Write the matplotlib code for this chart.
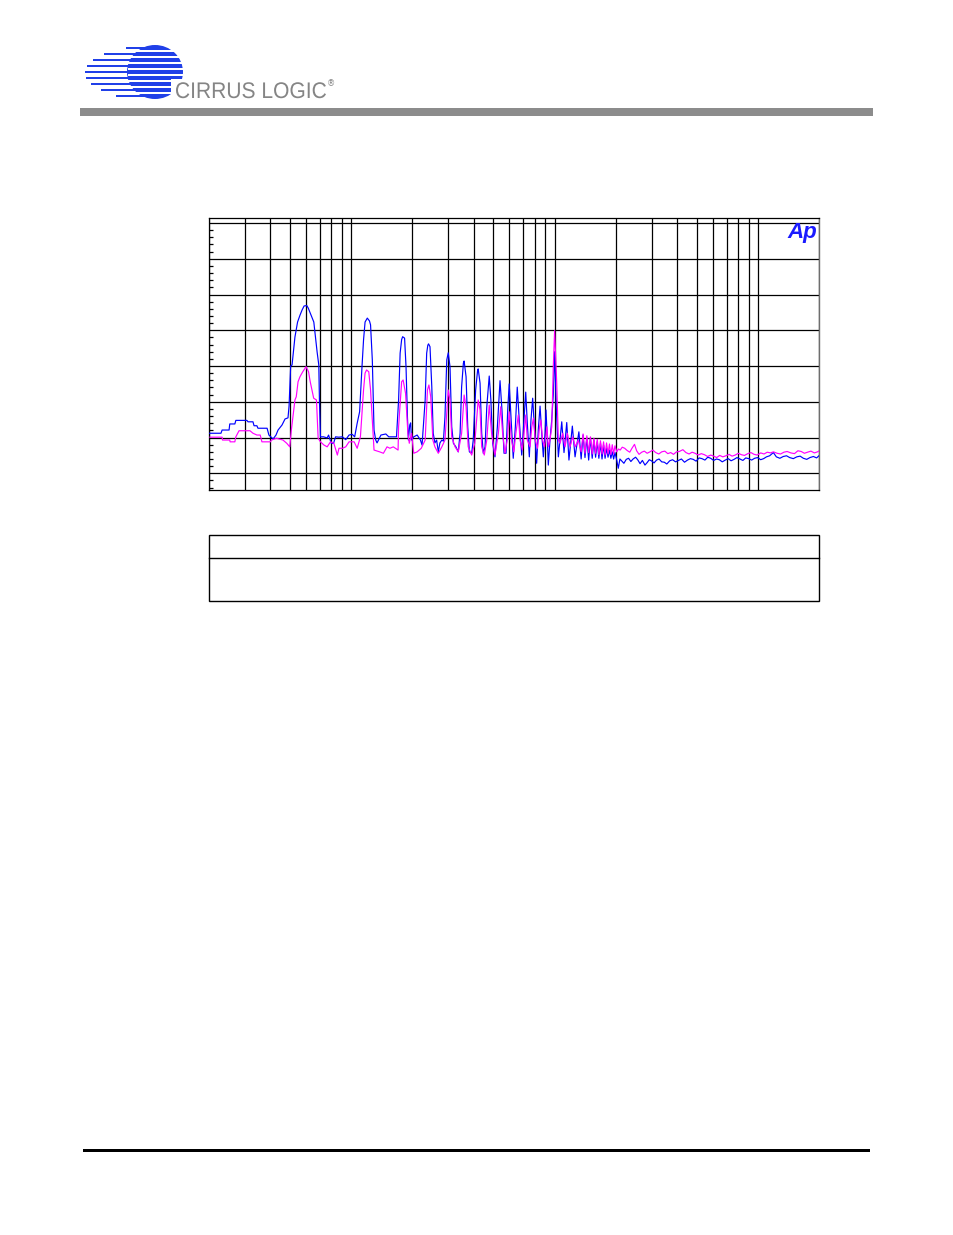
import matplotlib
matplotlib.use("Agg")
import matplotlib.pyplot as plt
from matplotlib.patches import Rectangle, Ellipse, PathPatch
from matplotlib.textpath import TextPath
from matplotlib.font_manager import FontProperties
from matplotlib.transforms import Affine2D
from matplotlib.ticker import FixedLocator, NullFormatter

# ---------------------------------------------------------------- data
# FFT traces, (frequency in Hz, level in dB)
blue_low = [(20.0, -58.8), (22.9, -58.8), (23.2, -57.9), (25.1, -57.9), (25.3, -56.2),
            (26.8, -56.2), (27.1, -55.2), (30.7, -55.2), (31.1, -55.6), (32.9, -55.6),
            (33.3, -56.7), (34.4, -56.7), (34.8, -57.4), (38.6, -57.4), (39.4, -59.3),
            (41.3, -60.4), (42.7, -59.3), (43.7, -57.9), (45.7, -56.5), (47.3, -54.8),
            (48.9, -54.5), (49.5, -51.2), (50.4, -40.0), (51.2, -39.7), (52.9, -31.9),
            (54.5, -27.7), (56.0, -25.8), (57.4, -24.3), (58.7, -23.2), (60.5, -23.1),
            (61.5, -23.8), (62.9, -25.2), (64.4, -26.6), (65.5, -27.7), (66.7, -31.9),
            (68.0, -36.1), (69.3, -39.7), (69.8, -49.5), (70.6, -59.8), (73.1, -59.8),
            (76.2, -60.1), (77.4, -59.3), (79.8, -61.6), (81.9, -61.6), (83.8, -59.8),
            (86.8, -59.9), (90.5, -59.8), (94.0, -60.6), (97.6, -59.3), (101.2, -59.1),
            (104, -59.8), (107, -56.0), (110, -52.8), (113, -40.2), (115, -32.7),
            (117, -27.7), (120, -26.6), (123, -27.4), (124.5, -28.5), (127, -38.3),
            (129.5, -57.9), (132, -60.7), (134, -61.5), (140, -59.3), (148, -59.0),
            (153, -59.8), (161, -59.8), (167, -59.8)]

blue_harm = [(171, -49.5), (174, -36.4), (177, -32.6), (179, -31.8), (183, -32.2),
             (186, -40.2), (189, -54.2), (191, -60.7), (194, -56.5), (196, -55.9),
             (198, -60.7), (203, -59.8), (211, -59.3), (219, -60.7), (223, -62.1),
             (231, -49.5), (235, -36.4), (238, -34.2), (240, -33.8), (244, -34.6),
             (249, -45.8), (253, -58.8), (258, -61.5), (263, -60.7), (268, -64.0),
             (273, -61.5), (279, -60.7), (284, -61.0), (289, -54.2), (295, -38.3),
             (300, -36.3), (306, -40.2), (312, -57.0), (318, -61.6), (327, -62.6),
             (336, -64.0), (343, -58.8), (349, -45.8), (356, -39.2), (359, -38.6),
             (367, -43.0), (374, -57.0), (381, -64.0), (391, -64.4), (398, -60.7),
             (409, -46.7), (418, -41.3), (421, -40.8), (430, -44.8), (438, -58.8),
             (446, -64.4), (455, -62.6), (464, -51.4), (477, -42.8), (486, -49.5),
             (496, -61.6), (509, -65.4), (523, -57.0), (539, -44.1), (551, -52.3),
             (564, -64.4), (577, -64.4), (588, -52.3), (598, -45.0), (610, -54.2),
             (626, -65.8), (641, -57.0), (655, -45.9), (670, -55.1), (689, -64.9),
             (707, -55.1), (721, -47.3), (734, -56.0), (751, -65.4), (765, -55.1),
             (780, -49.0), (795, -57.0), (816, -67.2), (831, -57.9), (848, -51.2),
             (864, -58.8), (880, -65.4), (897, -58.8), (907, -52.3), (921, -60.7),
             (931, -67.7), (949, -60.7), (968, -55.0), (985, -48.0), (1000, -36.0),
             (1020, -52.0), (1043, -65.4), (1084, -55.6), (1112, -64.2), (1147, -55.8),
             (1176, -66.3), (1222, -56.8), (1260, -65.4), (1316, -58.4)]

blue_osc = [(1350, -66.0), (1380, -59.3), (1410, -65.6), (1440, -60.1), (1470, -66.3),
            (1500, -60.1), (1530, -65.8), (1560, -60.7), (1590, -65.5), (1620, -61.2),
            (1650, -65.8), (1680, -61.6), (1710, -66.0), (1740, -62.1), (1770, -65.8),
            (1800, -63.0), (1830, -65.5), (1860, -63.5), (1890, -65.8), (1920, -64.0),
            (1950, -66.0), (1980, -64.2)]

blue_floor = [(2020, -66.3), (2055, -68.6), (2094, -66.0), (2140, -66.6), (2190, -67.2),
              (2250, -66.1), (2310, -65.8), (2370, -66.7), (2430, -66.0), (2500, -65.5),
              (2560, -66.2), (2630, -67.3), (2700, -66.4), (2780, -67.7), (2850, -67.0),
              (2920, -66.2), (2990, -66.5), (3080, -67.1), (3170, -66.3), (3260, -66.0),
              (3360, -66.8), (3460, -66.9), (3560, -67.4), (3680, -66.5), (3800, -66.2),
              (3930, -66.8), (4060, -66.4), (4200, -66.0), (4350, -66.9), (4500, -66.3),
              (4650, -65.9), (4800, -66.1), (4960, -66.6), (5130, -65.7), (5300, -65.9),
              (5480, -66.3), (5660, -65.5), (5850, -65.8), (6050, -66.4), (6250, -66.0),
              (6450, -66.2), (6670, -66.8), (6900, -66.3), (7130, -65.9), (7370, -66.5),
              (7620, -66.1), (7880, -65.6), (8150, -66.0), (8420, -66.4), (8700, -65.7),
              (9000, -65.9), (9300, -66.3), (9620, -65.8), (9950, -65.6), (10300, -66.2),
              (10650, -65.9), (11000, -65.4), (11400, -65.1), (11890, -64.2), (12300, -65.4),
              (12800, -65.8), (13300, -65.3), (13800, -65.1), (14300, -65.6), (14900, -65.9),
              (15500, -65.4), (16100, -65.2), (16700, -65.8), (17350, -66.1), (18000, -65.6),
              (18700, -65.3), (19400, -65.7), (20000, -65.0)]

mag_low = [(20.2, -59.9), (23.2, -59.9), (23.3, -60.7), (25.3, -60.7), (25.4, -61.2),
           (26.8, -61.2), (27.1, -59.8), (28.1, -58.1), (31.8, -58.1), (32.9, -58.8),
           (34.4, -59.3), (35.7, -59.3), (36.4, -61.2), (40.0, -61.2), (40.6, -60.7),
           (42.9, -60.2), (46.2, -60.7), (48.2, -61.6), (49.9, -62.6), (50.8, -57.9),
           (52.9, -49.5), (53.7, -48.6), (54.8, -44.4), (56.0, -43.0), (57.8, -41.6),
           (60.0, -40.2), (61.7, -41.6), (62.9, -44.4), (65.4, -49.0), (67.5, -49.5),
           (68.8, -60.2), (70.6, -61.2), (73.5, -62.1), (76.2, -62.6), (79.1, -61.2),
           (82.2, -61.6), (85.5, -64.9), (87.1, -63.0), (90.5, -63.0), (94.0, -62.6),
           (97.6, -61.2), (103.4, -61.2), (107, -63.0), (111, -59.8), (115, -46.7),
           (117, -42.0), (119, -41.1), (122, -41.6), (124.5, -46.7), (127, -55.1),
           (129.5, -63.5), (138, -64.0), (144, -64.4), (150, -62.6), (155, -63.0),
           (161, -62.6), (170, -63.5)]

mag_harm = [(171, -57.0), (177, -44.4), (180, -43.9), (185, -47.6), (190, -58.8),
            (193, -61.6), (198, -58.8), (203, -64.4), (211, -64.0), (221, -63.0),
            (231, -60.7), (237, -46.7), (241, -45.3), (246, -48.6), (252, -60.7),
            (258, -62.6), (268, -64.4), (279, -62.6), (289, -60.7), (300, -46.7),
            (306, -49.5), (312, -59.8), (324, -62.6), (336, -64.0), (349, -58.8),
            (359, -48.1), (367, -51.4), (376, -62.6), (391, -64.9), (405, -61.6),
            (421, -49.5), (430, -52.3), (438, -62.6), (451, -64.9), (464, -60.7),
            (477, -50.9), (490, -58.8), (509, -64.9), (529, -58.8), (543, -51.4),
            (555, -58.8), (570, -64.4), (585, -60.7), (598, -52.8), (614, -60.7),
            (630, -64.0), (645, -58.8), (663, -53.7), (676, -60.7), (694, -63.5),
            (707, -58.8), (721, -53.7), (734, -60.7), (757, -62.6), (772, -57.0),
            (787, -54.6), (803, -60.7), (824, -63.0), (843, -57.0), (856, -55.1),
            (872, -60.7), (892, -62.6), (916, -57.0), (931, -62.6), (949, -60.7),
            (968, -57.0), (985, -40.2), (1000, -30.1), (1024, -44.8), (1043, -60.7),
            (1063, -61.6), (1096, -58.8), (1125, -62.6), (1155, -58.8), (1190, -62.6),
            (1227, -59.8), (1264, -62.6), (1306, -60.7)]

mag_osc = [(1350, -64.0), (1380, -59.0), (1410, -64.4), (1440, -59.5), (1470, -64.2),
           (1500, -59.8), (1530, -64.6), (1560, -60.2), (1590, -64.4), (1620, -60.5),
           (1650, -64.8), (1680, -60.9), (1710, -64.6), (1740, -61.2), (1770, -64.9),
           (1800, -61.5), (1830, -64.6), (1860, -61.8), (1890, -64.8), (1920, -62.0),
           (1950, -64.6), (1980, -62.3)]

mag_floor = [(2020, -64.0), (2060, -63.2), (2100, -63.5), (2150, -62.7), (2210, -63.0),
             (2270, -63.6), (2340, -64.1), (2400, -63.0), (2470, -61.9), (2530, -63.7),
             (2600, -64.7), (2680, -64.1), (2760, -63.8), (2850, -64.4), (2940, -64.0),
             (3040, -63.5), (3140, -64.2), (3250, -64.6), (3360, -64.0), (3480, -63.8),
             (3600, -64.5), (3720, -64.2), (3840, -64.7), (3970, -64.0), (4100, -63.9),
             (4270, -63.4), (4420, -64.2), (4580, -64.6), (4740, -64.1), (4900, -64.4),
             (5080, -64.9), (5260, -64.5), (5450, -64.8), (5650, -65.3), (5850, -64.9),
             (6050, -65.2), (6260, -65.6), (6480, -65.0), (6710, -65.4), (6950, -65.1),
             (7200, -64.7), (7450, -65.2), (7720, -64.9), (8000, -64.4), (8280, -64.8),
             (8580, -65.0), (8900, -64.5), (9220, -64.2), (9560, -64.7), (9900, -64.9),
             (10300, -64.3), (10700, -64.6), (11100, -64.1), (11500, -64.3), (11900, -64.0),
             (12400, -64.4), (12900, -64.6), (13400, -64.1), (13900, -63.9), (14500, -64.3),
             (15100, -64.5), (15700, -63.7), (16300, -63.9), (16900, -64.4), (17500, -64.1),
             (18200, -63.8), (18900, -64.3), (19600, -64.0), (20000, -63.7)]

grid_freqs = [20, 30, 40, 50, 60, 70, 80, 90, 100, 200, 300, 400, 500, 600, 700,
              800, 900, 1000, 2000, 3000, 4000, 5000, 6000, 7000, 8000, 9000,
              10000, 20000]
grid_levels = [0, -10, -20, -30, -40, -50, -60, -70]
minor_levels = [v for v in range(-74, 1, 2) if v % 10 != 0]

# ---------------------------------------------------------------- page
W, H = 954, 1235
fig = plt.figure(figsize=(W / 100, H / 100), dpi=100)
fig.patch.set_facecolor("white")


def box(x0, y0, x1, y1):
    return [x0 / W, 1 - y1 / H, (x1 - x0) / W, (y1 - y0) / H]


# page decoration layer in pixel units
deco = fig.add_axes([0, 0, 1, 1])
deco.set_xlim(0, W)
deco.set_ylim(H, 0)
deco.axis("off")

logo_blue = "#2040e8"
# comet stripes of the logo
stripe_y = [48, 54, 60, 66, 72, 78, 84, 90, 96]
stripe_x0 = [126, 104, 93, 87, 85, 86, 91, 101, 116]
for yy, x0 in zip(stripe_y, stripe_x0):
    deco.add_patch(Rectangle((x0, yy - 1.4), 150 - x0, 2.8, color=logo_blue, lw=0))
deco.add_patch(Ellipse((155, 72), 56, 54, color=logo_blue, lw=0))
for yy in stripe_y[:-1]:
    deco.add_patch(Rectangle((128, yy + 2.2), 60, 1.4, color="white", lw=0))
deco.add_patch(Rectangle((171, 79), 30, 22, color="white", lw=0))

# condensed wordmark
word = TextPath((0, 0), "CIRRUS LOGIC", size=1,
                prop=FontProperties(family="Liberation Sans"))
ext = word.get_extents()
sx = 150.0 / ext.width
sy = 16.5 / 0.73
word_tf = Affine2D().translate(-ext.x0, 0).scale(sx, -sy).translate(176, 98)
deco.add_patch(PathPatch(word_tf.transform_path(word), color="#858585", lw=0))
deco.text(327, 86, "®", fontsize=6, color="#858585", family="DejaVu Sans",
          ha="left", va="baseline")

# grey rule under the header
deco.add_patch(Rectangle((80, 108), 793, 8, color="#8c8c8c", lw=0))
# footer rule
deco.add_patch(Rectangle((83, 1149), 787, 3, color="black", lw=0))
# empty caption table
deco.add_patch(Rectangle((209.5, 535.0), 610, 66, fill=False, ec="black", lw=1.0))
deco.plot([209.5, 819.5], [558.0, 558.0], color="black", lw=1.0)

# ---------------------------------------------------------------- chart
ax = fig.add_axes(box(209, 218.3, 819.3, 490))
ax.set_xscale("log")
ax.set_xlim(20, 20000)
ax.set_ylim(-74.67, 1.31)

ax.xaxis.set_major_locator(FixedLocator(grid_freqs))
ax.xaxis.set_minor_locator(FixedLocator([]))
ax.xaxis.set_major_formatter(NullFormatter())
ax.xaxis.set_minor_formatter(NullFormatter())
ax.yaxis.set_major_locator(FixedLocator(grid_levels))
ax.yaxis.set_minor_locator(FixedLocator(minor_levels))
ax.yaxis.set_major_formatter(NullFormatter())
ax.tick_params(axis="both", which="major", length=0)
ax.tick_params(axis="y", which="minor", direction="in", length=3.2, width=0.9,
               color="black", left=True, right=False)
ax.tick_params(axis="x", which="minor", length=0)
ax.grid(True, which="major", color="black", lw=0.9)
for side in ("left", "top", "bottom"):
    ax.spines[side].set_color("black")
    ax.spines[side].set_linewidth(0.9)
ax.spines["right"].set_color("#6e6e6e")
ax.spines["right"].set_linewidth(1.0)

blue_trace = blue_low + blue_harm + blue_osc + blue_floor
mag_trace = mag_low + mag_harm + mag_osc + mag_floor
ax.plot([p[0] for p in blue_trace], [p[1] for p in blue_trace],
        color="#0000ff", lw=0.85, zorder=3)
ax.plot([p[0] for p in mag_trace], [p[1] for p in mag_trace],
        color="#ff00ff", lw=0.85, zorder=4)

ax.text(0.997, 0.985, "Ap", transform=ax.transAxes, ha="right", va="top",
        fontsize=16, fontweight="bold", fontstyle="italic", color="#1a1aff",
        family="Liberation Sans", zorder=5)

fig.savefig("out.png", dpi=100, facecolor="white")
